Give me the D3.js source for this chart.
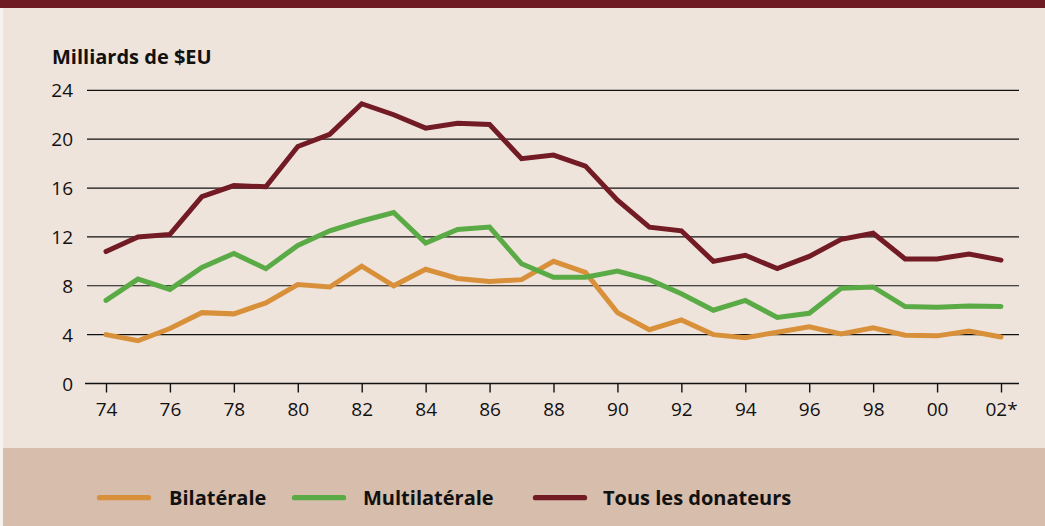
<!DOCTYPE html>
<html>
<head>
<meta charset="utf-8">
<script src="https://cdn.jsdelivr.net/npm/d3@7"></script>
<style>
	body { margin: 0; background: #fff; }
	svg { display: block; }
</style>
</head>
<body>
<svg id="chart" width="1045" height="526"></svg>
<script>
var years = d3.range(1974, 2003);
var bilaterale = [4.0, 3.5, 4.5, 5.8, 5.7, 6.6, 8.1, 7.9, 9.6, 8.0, 9.35, 8.6, 8.35, 8.5, 10.0, 9.1, 5.8, 4.4, 5.2, 4.0, 3.75, 4.2, 4.65, 4.05, 4.55, 3.95, 3.9, 4.3, 3.8];
var multilaterale = [6.8, 8.55, 7.7, 9.5, 10.65, 9.4, 11.3, 12.5, 13.3, 14.0, 11.5, 12.6, 12.8, 9.8, 8.7, 8.7, 9.2, 8.5, 7.35, 6.0, 6.8, 5.4, 5.75, 7.8, 7.9, 6.3, 6.25, 6.35, 6.3];
var tousDonateurs = [10.8, 12.0, 12.2, 15.3, 16.2, 16.1, 19.4, 20.4, 22.9, 22.0, 20.9, 21.3, 21.2, 18.4, 18.7, 17.8, 15.0, 12.8, 12.5, 10.0, 10.5, 9.4, 10.4, 11.8, 12.3, 10.2, 10.2, 10.6, 10.1];
var xTickYears = [1974, 1976, 1978, 1980, 1982, 1984, 1986, 1988, 1990, 1992, 1994, 1996, 1998, 2000, 2002];
var xTickLabels = ['74', '76', '78', '80', '82', '84', '86', '88', '90', '92', '94', '96', '98', '00', '02*'];
var yTicks = [0, 4, 8, 12, 16, 20, 24];
var seriesNames = ['Bilatérale', 'Multilatérale', 'Tous les donateurs'];
var seriesColors = ['#d8913a', '#5aab46', '#721b25'];

var svg = d3.select('#chart');
var W = 1045, H = 526;
var font = 'Open Sans, sans-serif';

//background panels
svg.append('rect').attr('x', 0).attr('y', 0).attr('width', W).attr('height', H).attr('fill', '#eee4dc');
svg.append('rect').attr('x', 0).attr('y', 448).attr('width', W).attr('height', H - 448).attr('fill', '#d7bdac');
svg.append('rect').attr('x', 0).attr('y', 0).attr('width', 3).attr('height', H).attr('fill', '#f7f2ee');
svg.append('rect').attr('x', 0).attr('y', 0).attr('width', W).attr('height', 8).attr('fill', '#6e1b24');

var x = d3.scaleLinear().domain([1974, 2002]).range([106, 1001]);
var y = d3.scaleLinear().domain([0, 24]).range([383.5, 90.3]);

//title
svg.append('text')
	.attr('x', 52).attr('y', 64)
	.attr('font-family', font)
	.attr('font-weight', 'bold')
	.attr('font-size', 20)
	.attr('fill', '#111')
	.text('Milliards de $EU');

//grid lines
svg.append('g').selectAll('line')
	.data(yTicks.filter(function(d){return d > 0;}))
	.enter().append('line')
	.attr('x1', 87).attr('x2', 1019)
	.attr('y1', function(d){return y(d);})
	.attr('y2', function(d){return y(d);})
	.attr('stroke', '#111').attr('stroke-width', 1.2);

//y labels
svg.append('g').selectAll('text')
	.data(yTicks)
	.enter().append('text')
	.attr('x', 73)
	.attr('y', function(d){return y(d) + 7;})
	.attr('text-anchor', 'end')
	.attr('font-family', font)
	.attr('font-size', 19)
	.attr('fill', '#111')
	.text(function(d){return d;});

//x axis
var xAxis = d3.axisBottom(x)
	.tickValues(xTickYears)
	.tickSize(9)
	.tickFormat(function(d, i){return xTickLabels[i];});

var gx = svg.append('g')
	.attr('transform', 'translate(0,' + y(0) + ')')
	.call(xAxis);
gx.select('.domain').remove();
gx.insert('line', ':first-child')
	.attr('x1', 85).attr('x2', 1019)
	.attr('stroke', '#111').attr('stroke-width', 1.4);
gx.selectAll('.tick line').attr('stroke', '#111').attr('stroke-width', 1.4);
gx.selectAll('.tick text')
	.attr('y', 32.5)
	.attr('dy', 0)
	.attr('font-family', font)
	.attr('font-size', 19)
	.attr('fill', '#111');

//lines
var line = d3.line()
	.x(function(d, i){return x(years[i]);})
	.y(function(d){return y(d);});

svg.append('g').selectAll('path')
	.data([bilaterale, multilaterale, tousDonateurs])
	.enter().append('path')
	.attr('d', line)
	.attr('fill', 'none')
	.attr('stroke', function(d, i){return seriesColors[i];})
	.attr('stroke-width', 5)
	.attr('stroke-linejoin', 'miter')
	.attr('stroke-linecap', 'round');

//legend
var legendX = [97, 292, 533];
var legend = svg.append('g').selectAll('g')
	.data(seriesNames)
	.enter().append('g')
	.attr('transform', function(d, i){return 'translate(' + legendX[i] + ',497.7)';});

legend.append('line')
	.attr('x1', 2.5).attr('x2', 51.5)
	.attr('stroke', function(d, i){return seriesColors[i];})
	.attr('stroke-width', 5.3)
	.attr('stroke-linecap', 'round');

legend.append('text')
	.attr('x', function(d, i){return [72, 71, 70][i];})
	.attr('y', 7.3)
	.attr('font-family', font)
	.attr('font-weight', 'bold')
	.attr('font-size', 20)
	.attr('fill', '#111')
	.text(function(d){return d;});
</script>
</body>
</html>
